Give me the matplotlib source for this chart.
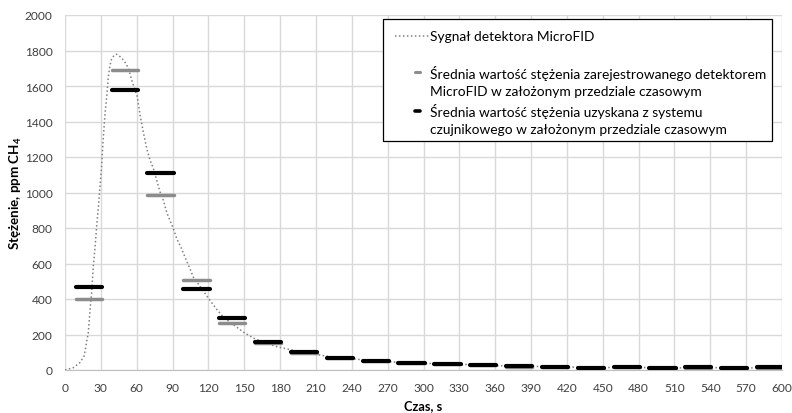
import matplotlib
matplotlib.use('Agg')
import matplotlib.pyplot as plt
from matplotlib.patches import Rectangle

plt.rcParams['font.family'] = ['Lato', 'DejaVu Sans']
plt.rcParams['mathtext.fontset'] = 'custom'
plt.rcParams['mathtext.rm'] = 'Lato'
plt.rcParams['mathtext.bf'] = 'Lato:bold'

# MicroFID signal (time s, ppm CH4)
signal_t = [0, 7, 12.5, 16, 18, 19.5, 21, 22.3, 23.7, 25, 26.5, 28, 30.6, 32, 33.4,
            35, 36.2, 37.6, 39, 41, 43.3, 46, 48.8, 50.8, 53, 55.8, 58.6, 60.5, 62.8,
            65.5, 68.4, 71.1, 73.9, 76.7, 79.5, 82.3, 85.1, 87.9, 90.7, 93.5, 97.6,
            100.4, 104.6, 107.4, 111.5, 115.7, 120, 126.9, 133, 140.8, 149.2, 157.6,
            166, 177, 188.3, 199.4, 210.6, 221.7, 235.6, 249.6, 263.5, 277.5, 290,
            305, 320, 335, 350, 365, 380, 395, 410, 425, 440, 455, 470, 485, 500,
            515, 530, 545, 560, 575, 590, 600]
signal_ppm = [0, 13, 42, 79, 154, 211, 342, 436, 586, 680, 811, 924, 1143, 1304, 1436,
              1549, 1647, 1714, 1752, 1772, 1779, 1766, 1747, 1728, 1700, 1634, 1577,
              1540, 1436, 1342, 1247, 1183, 1136, 1070, 1004, 956, 889, 841, 796, 740,
              683, 636, 570, 523, 485, 445, 405, 342, 295, 256, 214, 180, 157, 132, 115,
              100, 87, 75, 66, 57, 49, 44, 40, 37, 34, 31, 27, 24, 21, 20, 19, 16, 12,
              14, 17, 14, 10, 12, 15, 13, 10, 12, 15, 15]

# 30 s intervals, centre of each averaging bar
interval_mid = [20, 50, 80, 110, 140, 170, 200, 230, 260, 290,
                320, 350, 380, 410, 440, 470, 500, 530, 560, 590]
mean_fid = [400, 1690, 985, 505, 265, 152, 98, 68, 48, 39,
            33, 26, 19, 18, 11, 16, 9, 14, 9, 14]
mean_sensor = [470, 1575, 1110, 455, 295, 155, 100, 68, 49, 40,
               34, 27, 20, 19, 12, 17, 10, 15, 10, 15]

lbl_signal = 'Sygnał detektora MicroFID'
lbl_fid = ['Średnia wartość stężenia zarejestrowanego detektorem',
           'MicroFID w założonym przedziale czasowym']
lbl_sensor = ['Średnia wartość stężenia uzyskana z systemu',
              'czujnikowego w założonym przedziale czasowym']

fig = plt.figure(figsize=(7.92, 4.14), dpi=100)
ax = fig.add_axes([65 / 792, 43 / 414, 717 / 792, 355 / 414])

ax.plot(signal_t, signal_ppm, color='#808080', lw=1.1, ls=(0, (1, 1.6)), zorder=2)
half = 11
ax.hlines(mean_fid, [m - half for m in interval_mid], [m + half for m in interval_mid],
          colors='#8c8c8c', lw=2.5, capstyle='round', zorder=3)
ax.hlines(mean_sensor, [m - half for m in interval_mid], [m + half for m in interval_mid],
          colors='black', lw=3.0, capstyle='round', zorder=4)

ax.set_xlim(0, 600)
ax.set_ylim(0, 2000)
ax.set_xticks(range(0, 601, 30))
ax.set_yticks(range(0, 2001, 200))
ax.grid(True, color='#d9d9d9', lw=1)
ax.set_axisbelow(True)
for s in ['left', 'top', 'right']:
    ax.spines[s].set_visible(False)
ax.spines['bottom'].set_color('#bfbfbf')
ax.tick_params(length=0, labelsize=8.6, colors='#404040')
ax.tick_params(axis='y', pad=9)
ax.tick_params(axis='x', pad=9)
ax.set_xlabel('Czas, s', fontweight='bold', fontsize=9.2, labelpad=4)
ax.set_ylabel(r'Stężenie, ppm CH$_{\mathbf{4}}$', fontweight='bold', fontsize=9.6, labelpad=0.5)

# legend box drawn by hand: each entry takes two lines, handle on the first one
tr = ax.transAxes
ax.add_patch(Rectangle((0.4435, 0.645), 0.5425, 0.3437, transform=tr, facecolor='white',
                       edgecolor='black', lw=0.9, zorder=5))
tx = 0.509
rows = [0.9417, 0.8385, 0.785, 0.7305, 0.679]
ax.plot([0.4605, 0.5075], [rows[0], rows[0]], transform=tr, color='#808080', lw=1.1,
        ls=(0, (1, 1.6)), zorder=6)
ax.plot([0.4875, 0.4945], [rows[1], rows[1]], transform=tr, color='#8c8c8c', lw=2.2,
        solid_capstyle='round', zorder=6)
ax.plot([0.4875, 0.4945], [rows[3], rows[3]], transform=tr, color='black', lw=2.6,
        solid_capstyle='round', zorder=6)
texts = [lbl_signal] + lbl_fid + lbl_sensor
for y, t in zip(rows, texts):
    ax.text(tx, y, t, transform=tr, va='center', ha='left', fontsize=9.9, zorder=6)

fig.savefig('out.png', dpi=100)
